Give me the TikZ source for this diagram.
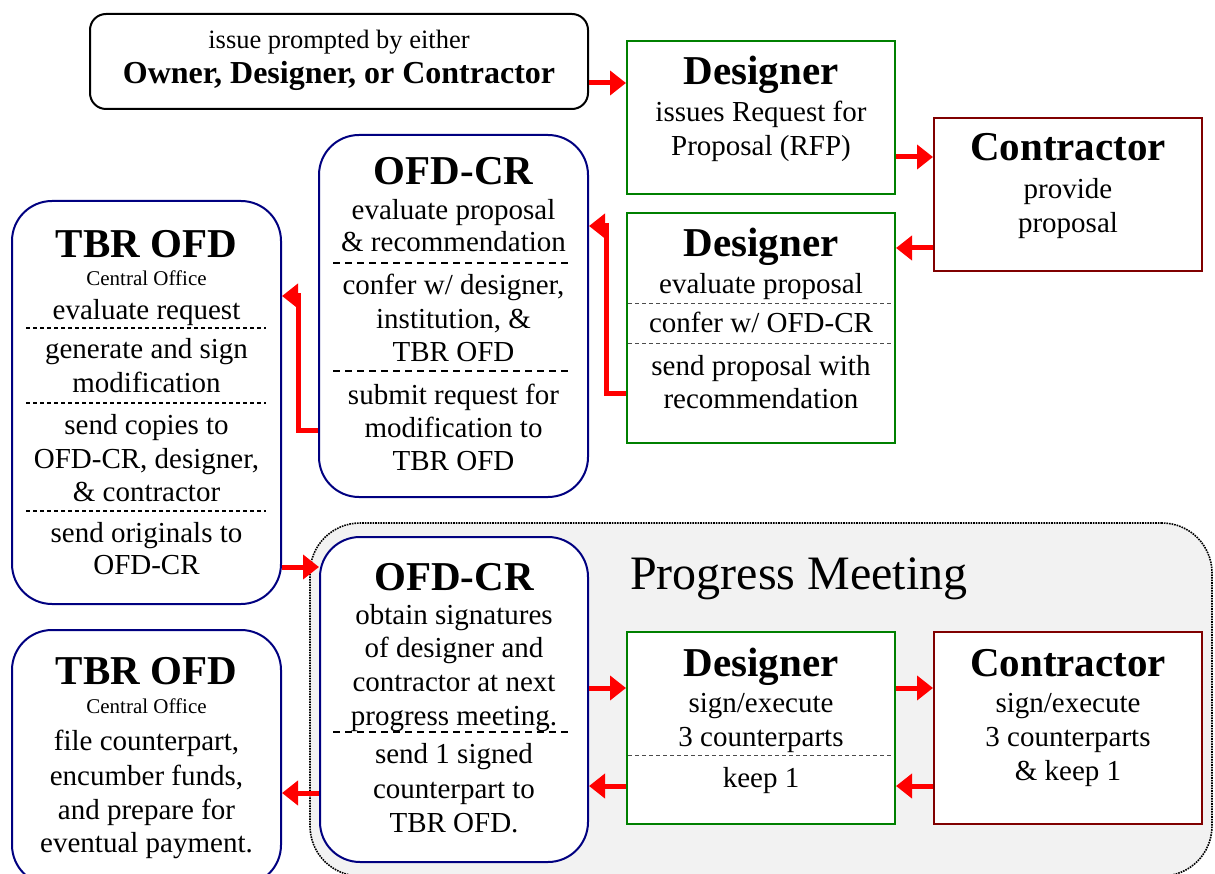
\documentclass[tikz,border=0pt]{standalone}
\usepackage{fontspec}
\setmainfont{Liberation Serif}
\usetikzlibrary{arrows.meta,calc}
\definecolor{dgreen}{RGB}{0,128,0}
\definecolor{dred}{RGB}{128,0,0}
\definecolor{navy}{RGB}{0,0,128}
\definecolor{pmgray}{RGB}{242,242,242}
\begin{document}
\begin{tikzpicture}[x=1pt,y=-1pt,
  box/.style={rectangle, inner sep=0pt, line width=2pt, fill=white},
  gbox/.style={box, draw=dgreen, minimum width=268pt},
  rbox/.style={box, draw=dred, minimum width=268pt},
  bbox/.style={box, draw=navy, rounded corners=40pt, minimum width=268pt},
  kbox/.style={box, draw=black, rounded corners=16pt},
  body/.style={font=\fontsize{29}{34}\selectfont, anchor=base, inner sep=0pt},
  ttl/.style={font=\fontsize{41}{48}\bfseries\selectfont, anchor=base, inner sep=0pt},
  smalltxt/.style={font=\fontsize{21}{25}\selectfont, anchor=base, inner sep=0pt},
  arr/.style={draw=red, line width=5pt, -{Triangle[length=16pt,width=24pt]}},
  septhick/.style={draw=black, line width=2pt, dash pattern=on 7pt off 5pt},
  septhin/.style={draw=black!70, line width=0.9pt, dash pattern=on 4pt off 3pt},
  sepdot/.style={draw=black, line width=2pt, dash pattern=on 3.5pt off 3.5pt},
]
\clip (0,0) rectangle (1215,874);
\fill[white] (0,0) rectangle (1215,874);

% Progress meeting region
\node[draw=black, line width=1.6pt, densely dotted, fill=pmgray, rounded corners=50pt,
      minimum width=902pt, minimum height=353pt, inner sep=0pt] (PM) at (761,699.5) {};
\node[font=\fontsize{48}{56}\selectfont, anchor=base west, inner sep=0pt] (PMt) at (630,589) {Progress Meeting};

% boxes
\node[kbox, minimum width=498pt, minimum height=95pt] (A) at (339,61.5) {};
\node[gbox, minimum height=153pt] (B) at (761,117.5) {};
\node[rbox, minimum height=153pt] (C) at (1068,194.5) {};
\node[gbox, minimum height=230pt] (D) at (761,328) {};
\node[bbox, minimum width=269pt, minimum height=362pt] (E) at (453.5,316) {};
\node[bbox, minimum width=269pt, minimum height=403pt] (F) at (146.5,402.5) {};
\node[bbox, minimum width=269pt, minimum height=255pt] (G) at (146.5,757.5) {};
\node[bbox, minimum height=325pt] (H) at (454,699.5) {};
\node[gbox, minimum height=192pt] (I) at (761,728) {};
\node[rbox, minimum height=192pt] (J) at (1068,728) {};

% box A text
\node[font=\fontsize{26.5}{32}\selectfont, anchor=base, inner sep=0pt] (A1) at (339,49) {issue prompted by either};
\node[font=\fontsize{32}{38}\bfseries\selectfont, anchor=base, inner sep=0pt] (A2) at (339,84) {Owner, Designer, or Contractor};

% box B
\node[ttl] (B0) at (761,85) {Designer};
\node[body] (B1) at (761,122) {issues Request for};
\node[body] (B2) at (761,156) {Proposal (RFP)};

% box C
\node[ttl] (C0) at (1068,161) {Contractor};
\node[body] (C1) at (1068,199) {provide};
\node[body] (C2) at (1068,233) {proposal};

% box D
\node[ttl] (D0) at (761,257) {Designer};
\node[body] (D1) at (761,294) {evaluate proposal};
\node[body] (D2) at (761,333) {confer w/ OFD-CR};
\node[body] (D3) at (761,375) {send proposal with};
\node[body] (D4) at (761,408) {recommendation};
\draw[septhin] (628,303) -- (894,303);
\draw[septhin] (628,343) -- (894,343);

% box E
\node[ttl] (E0) at (453.5,185) {OFD-CR};
\node[body] (E1) at (453.5,220) {evaluate proposal};
\node[body] (E2) at (453.5,252) {\& recommendation};
\node[body] (E3) at (453.5,295) {confer w/ designer,};
\node[body] (E4) at (453.5,329) {institution, \&};
\node[body] (E5) at (453.5,362) {TBR OFD};
\node[body] (E6) at (453.5,404) {submit request for};
\node[body] (E7) at (453.5,437) {modification to};
\node[body] (E8) at (453.5,470) {TBR OFD};
\draw[septhick] (333,263) -- (571,263);
\draw[septhick] (333,371) -- (571,371);

% box F
\node[ttl] (F0) at (146.5,258) {TBR OFD};
\node[smalltxt] (F1) at (146.5,286) {Central Office};
\node[body] (F2) at (146.5,320) {evaluate request};
\node[body] (F3) at (146.5,359) {generate and sign};
\node[body] (F4) at (146.5,392) {modification};
\node[body] (F5) at (146.5,434) {send copies to};
\node[body] (F6) at (146.5,468) {OFD-CR, designer,};
\node[body] (F7) at (146.5,501) {\& contractor};
\node[body] (F8) at (146.5,542) {send originals to};
\node[body] (F9) at (146.5,574) {OFD-CR};
\draw[sepdot] (26,328) -- (266,328);
\draw[sepdot] (26,403) -- (266,403);
\draw[sepdot] (26,511) -- (266,511);

% box G
\node[ttl] (G0) at (146.5,684) {TBR OFD};
\node[smalltxt] (G1) at (146.5,713) {Central Office};
\node[body] (G2) at (146.5,750) {file counterpart,};
\node[body] (G3) at (146.5,785) {encumber funds,};
\node[body] (G4) at (146.5,819) {and prepare for};
\node[body] (G5) at (146.5,852) {eventual payment.};

% box H
\node[ttl] (H0) at (454,590) {OFD-CR};
\node[body] (H1) at (454,624) {obtain signatures};
\node[body] (H2) at (454,657) {of designer and};
\node[body] (H3) at (454,691) {contractor at next};
\node[body] (H4) at (454,725) {progress meeting.};
\node[body] (H5) at (454,763) {send 1 signed};
\node[body] (H6) at (454,798) {counterpart to};
\node[body] (H7) at (454,832) {TBR OFD.};
\draw[septhick] (333,732) -- (571,732);

% box I
\node[ttl] (I0) at (761,676) {Designer};
\node[body] (I1) at (761,712) {sign/execute};
\node[body] (I2) at (761,746) {3 counterparts};
\node[body] (I3) at (761,787) {keep 1};
\draw[septhin] (628,755) -- (894,755);

% box J
\node[ttl] (J0) at (1068,676) {Contractor};
\node[body] (J1) at (1068,712) {sign/execute};
\node[body] (J2) at (1068,746) {3 counterparts};
\node[body] (J3) at (1068,780) {\& keep 1};

% arrow levels
\coordinate (yAB) at (0,83);
\coordinate (yBC) at (0,157);
\coordinate (yCD) at (0,248);
\coordinate (yDa) at (0,393);
\coordinate (yDb) at (0,226);
\coordinate (yEa) at (0,430);
\coordinate (yEb) at (0,296);
\coordinate (yFH) at (0,567);
\coordinate (yHI) at (0,688);
\coordinate (yJI) at (0,786);
\coordinate (yHG) at (0,793);

\draw[arr] (A.east |- yAB) -- (B.west |- yAB);
\draw[arr] (B.east |- yBC) -- (C.west |- yBC);
\draw[arr] (C.west |- yCD) -- (D.east |- yCD);
\draw[arr] (D.west |- yDa) -- ++(-20,0) |- (E.east |- yDb);
\draw[arr] (E.west |- yEa) -- ++(-20,0) |- (F.east |- yEb);
\draw[arr] (F.east |- yFH) -- (H.west |- yFH);
\draw[arr] (H.east |- yHI) -- (I.west |- yHI);
\draw[arr] (I.east |- yHI) -- (J.west |- yHI);
\draw[arr] (J.west |- yJI) -- (I.east |- yJI);
\draw[arr] (I.west |- yJI) -- (H.east |- yJI);
\draw[arr] (H.west |- yHG) -- (G.east |- yHG);
\end{tikzpicture}
\end{document}
